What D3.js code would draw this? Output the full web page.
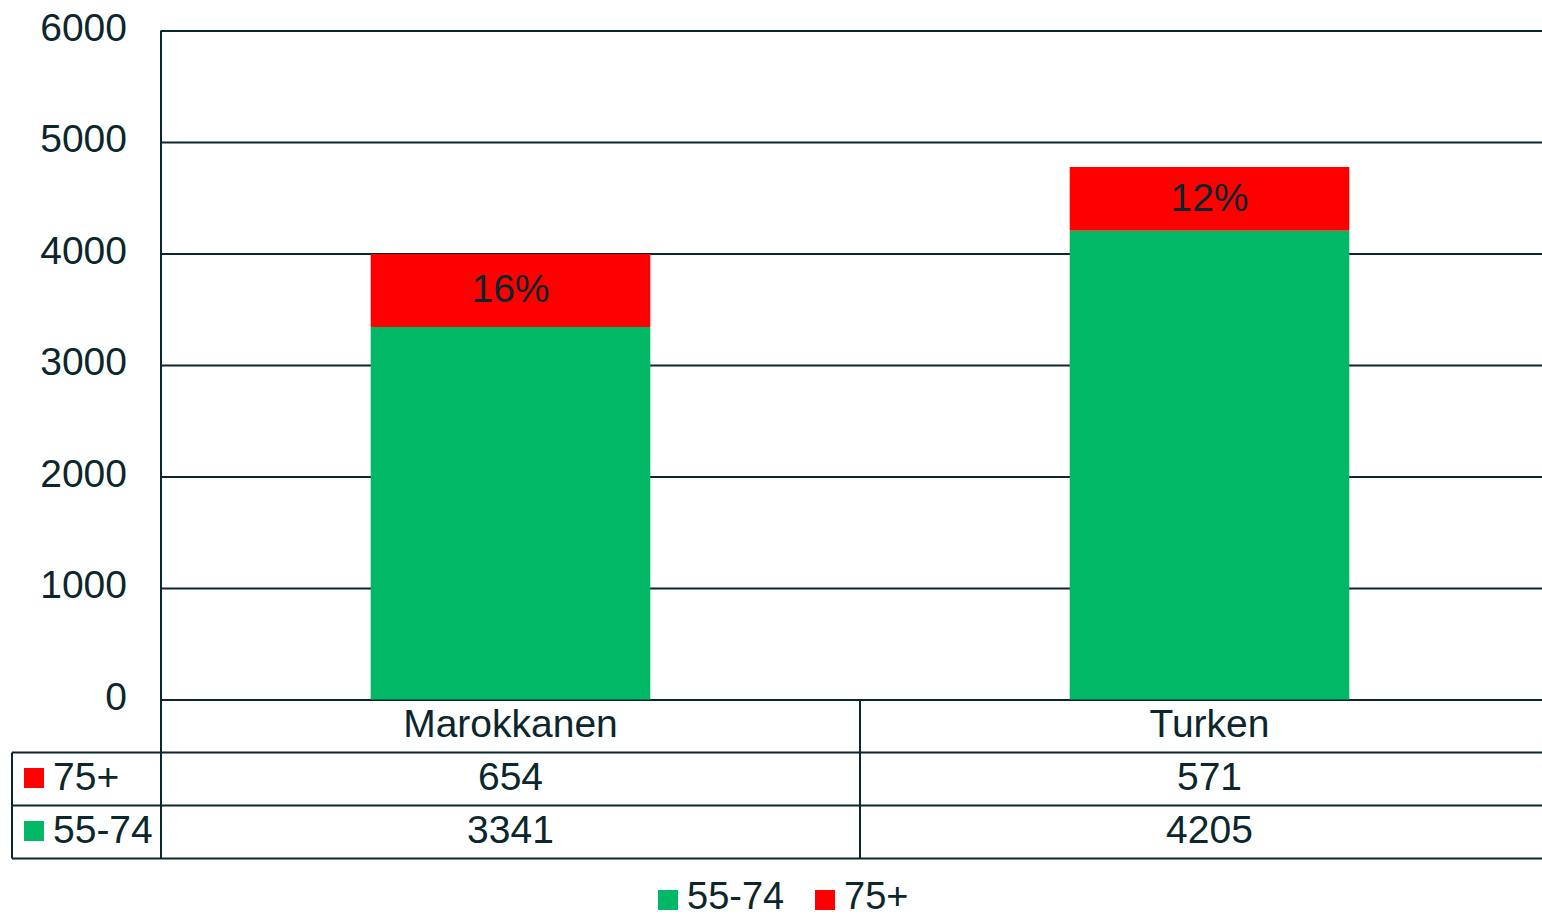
<!DOCTYPE html>
<html>
<head>
<meta charset="utf-8">
<script src="https://cdn.jsdelivr.net/npm/d3@7"></script>
<style>
  body { margin: 0; background: #fff; }
  svg { display: block; }
</style>
</head>
<body>
<div id="chart"></div>
<script>
// data
var categories = ["Marokkanen", "Turken"];
var seriesNames = ["55-74", "75+"];
var young = [3341, 4205];
var old = [654, 571];
var yTicks = [0, 1000, 2000, 3000, 4000, 5000, 6000];

var colors = {"55-74": "#00b865", "75+": "#ff0000"};
var ink = "#0b262c";

var W = 1542, H = 917;
var margin = {top: 30.5, left: 161, right: -17};
var plotBottom = 699.5, rowH = 53;

var svg = d3.select("#chart").append("svg")
    .attr("width", W)
    .attr("height", H)
    .style("font-family", "'Liberation Sans', Arial, sans-serif");

var data = categories.map(function(c, i) {
  return {cat: c, "55-74": young[i], "75+": old[i]};
});

var x = d3.scaleBand().domain(categories)
    .range([margin.left, W - margin.right])
    .paddingInner(0.6).paddingOuter(0.3);
var xCol = d3.scaleBand().domain(categories)
    .range([margin.left, W - margin.right]).padding(0);
var y = d3.scaleLinear().domain([0, 6000]).range([plotBottom, margin.top]);

// gridlines + y labels
svg.append("g")
    .attr("class", "y-axis")
    .attr("transform", "translate(" + margin.left + ",0)")
    .style("font-family", "'Liberation Sans', Arial, sans-serif")
    .style("font-size", "39px")
    .style("color", ink)
    .call(d3.axisLeft(y).tickValues(yTicks).tickFormat(d3.format("d"))
      .tickSize(-(W - margin.right - margin.left)).tickPadding(34))
    .call(function(g) {
      g.select(".domain").remove();
      g.selectAll(".tick line").attr("stroke", ink).attr("stroke-width", 2);
      g.selectAll(".tick text").attr("fill", ink).attr("dy", "0.25em");
    });

// stacked bars
var stack = d3.stack().keys(seriesNames)(data);
svg.append("g")
  .selectAll("g")
  .data(stack)
  .enter().append("g")
    .attr("fill", function(d) { return colors[d.key]; })
  .selectAll("rect")
  .data(function(d) { return d; })
  .enter().append("rect")
    .attr("x", function(d) { return x(d.data.cat); })
    .attr("y", function(d) { return y(d[1]); })
    .attr("width", x.bandwidth())
    .attr("height", function(d) { return y(d[0]) - y(d[1]); });

// percentage labels on the 75+ segment
svg.append("g")
  .selectAll("text")
  .data(stack[1])
  .enter().append("text")
    .attr("x", function(d) { return x(d.data.cat) + x.bandwidth() / 2; })
    .attr("y", function(d) { return (y(d[0]) + y(d[1])) / 2; })
    .attr("dy", "0.3em")
    .attr("text-anchor", "middle")
    .attr("font-size", "39px")
    .attr("fill", ink)
    .text(function(d) { return Math.round(100 * d.data["75+"] / d[1]) + "%"; });

// data table
var table = svg.append("g").attr("class", "table");
var tableBottom = plotBottom + 3 * rowH;
var lineStyle = function(sel) { return sel.attr("stroke", ink).attr("stroke-width", 2); };

// vertical axis line through the table
table.append("line").call(lineStyle)
    .attr("x1", margin.left).attr("x2", margin.left)
    .attr("y1", margin.top).attr("y2", tableBottom);
// column separators
categories.slice(1).forEach(function(c) {
  table.append("line").call(lineStyle)
      .attr("x1", xCol(c)).attr("x2", xCol(c))
      .attr("y1", plotBottom).attr("y2", tableBottom);
});
// horizontal rows
[1, 2, 3].forEach(function(r) {
  table.append("line").call(lineStyle)
      .attr("x1", 12).attr("x2", W - margin.right)
      .attr("y1", plotBottom + r * rowH).attr("y2", plotBottom + r * rowH);
});
table.append("line").call(lineStyle)
    .attr("x1", 12).attr("x2", 12)
    .attr("y1", plotBottom + rowH).attr("y2", tableBottom);

// category row
table.selectAll(".cat")
  .data(categories)
  .enter().append("text")
    .attr("class", "cat")
    .attr("x", function(d) { return xCol(d) + xCol.bandwidth() / 2; })
    .attr("y", plotBottom + rowH / 2)
    .attr("dy", "0.28em")
    .attr("text-anchor", "middle")
    .attr("font-size", "39px")
    .attr("fill", ink)
    .text(function(d) { return d; });

// value rows: 75+ then 55-74
var rows = [{key: "75+", vals: old}, {key: "55-74", vals: young}];
rows.forEach(function(row, r) {
  var cy = plotBottom + (r + 1) * rowH + rowH / 2;
  table.append("rect")
      .attr("x", 24).attr("y", cy - 11)
      .attr("width", 20).attr("height", 20)
      .attr("fill", colors[row.key]);
  table.append("text")
      .attr("x", 53).attr("y", cy)
      .attr("dy", "0.28em")
      .attr("font-size", "39px")
      .attr("fill", ink)
      .text(row.key);
  table.selectAll(".v" + r)
    .data(row.vals)
    .enter().append("text")
      .attr("x", function(d, i) { return xCol(categories[i]) + xCol.bandwidth() / 2; })
      .attr("y", cy)
      .attr("dy", "0.28em")
      .attr("text-anchor", "middle")
      .attr("font-size", "39px")
      .attr("fill", ink)
      .text(function(d) { return d; });
});

// legend
var legend = svg.append("g").attr("class", "legend");
var lx = [658, 815];
seriesNames.forEach(function(s, i) {
  legend.append("rect")
      .attr("x", lx[i]).attr("y", 890)
      .attr("width", 20).attr("height", 20)
      .attr("fill", colors[s]);
  legend.append("text")
      .attr("x", lx[i] + 29).attr("y", 909)
      .attr("font-size", "38px")
      .attr("fill", ink)
      .text(s);
});
</script>
</body>
</html>
